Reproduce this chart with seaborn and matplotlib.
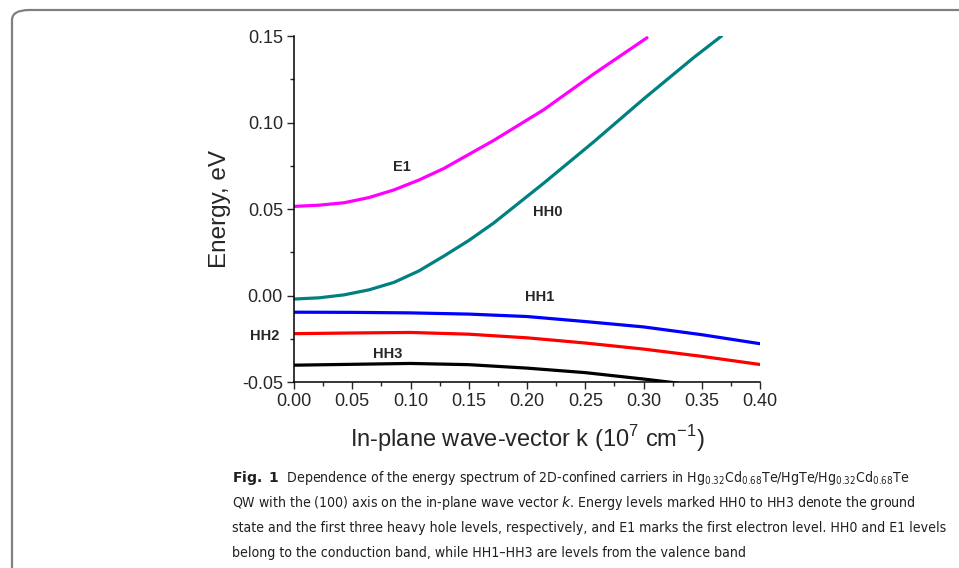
import numpy as np
import pandas as pd
import seaborn as sns
import matplotlib.pyplot as plt
from matplotlib.patches import FancyBboxPatch
from matplotlib.ticker import MultipleLocator

# subband dispersion: k in 1e7 cm^-1, energy in eV
k_e1 = [0.0, 0.0214, 0.0429, 0.0643, 0.0857, 0.1071, 0.1286, 0.1714, 0.2143, 0.2571, 0.303]
en_e1 = [0.0516, 0.0523, 0.0537, 0.0567, 0.0611, 0.0668, 0.0735, 0.0897, 0.1074, 0.1280, 0.1490]

k_hh0 = [0.0, 0.0214, 0.0429, 0.0643, 0.0857, 0.1071, 0.1286, 0.15, 0.1714, 0.2143, 0.2571, 0.30, 0.343, 0.367]
en_hh0 = [-0.0019, -0.0012, 0.0005, 0.0034, 0.0077, 0.0143, 0.0229, 0.0319, 0.0420, 0.0650, 0.0888, 0.1136, 0.1375, 0.1500]

k_hh = [0.0, 0.05, 0.10, 0.15, 0.20, 0.25, 0.30, 0.35, 0.40]
en_hh1 = [-0.0095, -0.0096, -0.0099, -0.0106, -0.0120, -0.0149, -0.0180, -0.0225, -0.0277]
en_hh2 = [-0.0219, -0.0215, -0.0212, -0.0222, -0.0243, -0.0273, -0.0308, -0.0350, -0.0397]

k_hh3 = [0.0, 0.05, 0.10, 0.15, 0.20, 0.25, 0.30, 0.33]
en_hh3 = [-0.0401, -0.0396, -0.0391, -0.0398, -0.0418, -0.0444, -0.0481, -0.0505]

levels = ['E1', 'HH0', 'HH1', 'HH2', 'HH3']
colors = ['#ff00ff', '#008080', '#0000ff', '#ff0000', '#000000']

df = pd.concat([
    pd.DataFrame({'k': k_e1, 'E': en_e1, 'level': 'E1'}),
    pd.DataFrame({'k': k_hh0, 'E': en_hh0, 'level': 'HH0'}),
    pd.DataFrame({'k': k_hh, 'E': en_hh1, 'level': 'HH1'}),
    pd.DataFrame({'k': k_hh, 'E': en_hh2, 'level': 'HH2'}),
    pd.DataFrame({'k': k_hh3, 'E': en_hh3, 'level': 'HH3'}),
], ignore_index=True)

sns.set_style('ticks')
plt.rcParams['font.family'] = ['Liberation Sans', 'DejaVu Sans']
plt.rcParams['mathtext.fontset'] = 'custom'
plt.rcParams['mathtext.it'] = 'DejaVu Sans:italic'
plt.rcParams['mathtext.bf'] = 'DejaVu Sans:bold'

fig = plt.figure(figsize=(9.59, 5.68), dpi=100)
ax = fig.add_axes([0.3066, 0.3269, 0.4859, 0.6097])

sns.lineplot(data=df, x='k', y='E', hue='level', hue_order=levels,
             palette=dict(zip(levels, colors)), linewidth=2.3,
             legend=False, ax=ax, sort=True, estimator=None)

ax.set_xlim(0, 0.40)
ax.set_ylim(-0.05, 0.15)
ax.xaxis.set_major_locator(MultipleLocator(0.05))
ax.xaxis.set_minor_locator(MultipleLocator(0.025))
ax.yaxis.set_major_locator(MultipleLocator(0.05))
ax.yaxis.set_minor_locator(MultipleLocator(0.025))
ax.xaxis.set_major_formatter(plt.FormatStrFormatter('%.2f'))
ax.yaxis.set_major_formatter(plt.FormatStrFormatter('%.2f'))
ax.tick_params(which='major', length=5, width=1, labelsize=13, direction='out', pad=3)
ax.tick_params(which='minor', length=3, width=1, direction='out')
for s in ['top', 'right']:
    ax.spines[s].set_visible(False)
for s in ['left', 'bottom']:
    ax.spines[s].set_linewidth(1.1)
    ax.spines[s].set_color('black')

ax.set_xlabel(r'In-plane wave-vector k (10$^{\mathregular{7}}$ cm$^{\mathregular{-1}}$)',
              fontsize=17, labelpad=9)
ax.set_ylabel('Energy, eV', fontsize=17.5, labelpad=8)

lab_kw = dict(fontsize=10.5, fontweight='bold', ha='center', va='center', clip_on=False)
ax.text(0.0926, 0.0743, 'E1', **lab_kw)
ax.text(0.218, 0.0485, 'HH0', **lab_kw)
ax.text(0.211, -0.0007, 'HH1', **lab_kw)
ax.text(-0.025, -0.023, 'HH2', **lab_kw)
ax.text(0.0806, -0.0334, 'HH3', **lab_kw)

# caption box
box = FancyBboxPatch((12 / 959, -0.1), 1.1, 1.1 - 10 / 568,
                     boxstyle='round,pad=0,rounding_size=0.018',
                     transform=fig.transFigure, facecolor='none',
                     edgecolor='#808080', linewidth=1.6, clip_on=False)
fig.patches.append(box)

cap_kw = dict(fontsize=13, family='DejaVu Sans', stretch='condensed',
              color='#231f20', ha='left', va='center')
lines = [
    r'$\mathbf{Fig.\ 1}$  Dependence of the energy spectrum of 2D-confined carriers in '
    r'Hg$_{\mathregular{0.32}}$Cd$_{\mathregular{0.68}}$Te/HgTe/Hg$_{\mathregular{0.32}}$Cd$_{\mathregular{0.68}}$Te',
    r'QW with the (100) axis on the in-plane wave vector $\mathit{k}$. Energy levels marked HH0 to HH3 denote the ground',
    'state and the first three heavy hole levels, respectively, and E1 marks the first electron level. HH0 and E1 levels',
    'belong to the conduction band, while HH1\u2013HH3 are levels from the valence band',
]
caps = []
for i, line in enumerate(lines):
    caps.append(fig.text(232 / 959, 1 - (478 + 25 * i) / 568, line, **cap_kw))

# shrink caption font so line 3 spans the same width as in the reference
fig.canvas.draw()
r = fig.canvas.get_renderer()
w3 = caps[2].get_window_extent(r).width
scale = min(1.0, 711 / w3)
for t in caps:
    t.set_fontsize(13 * scale)

fig.savefig('out.png', dpi=100)
